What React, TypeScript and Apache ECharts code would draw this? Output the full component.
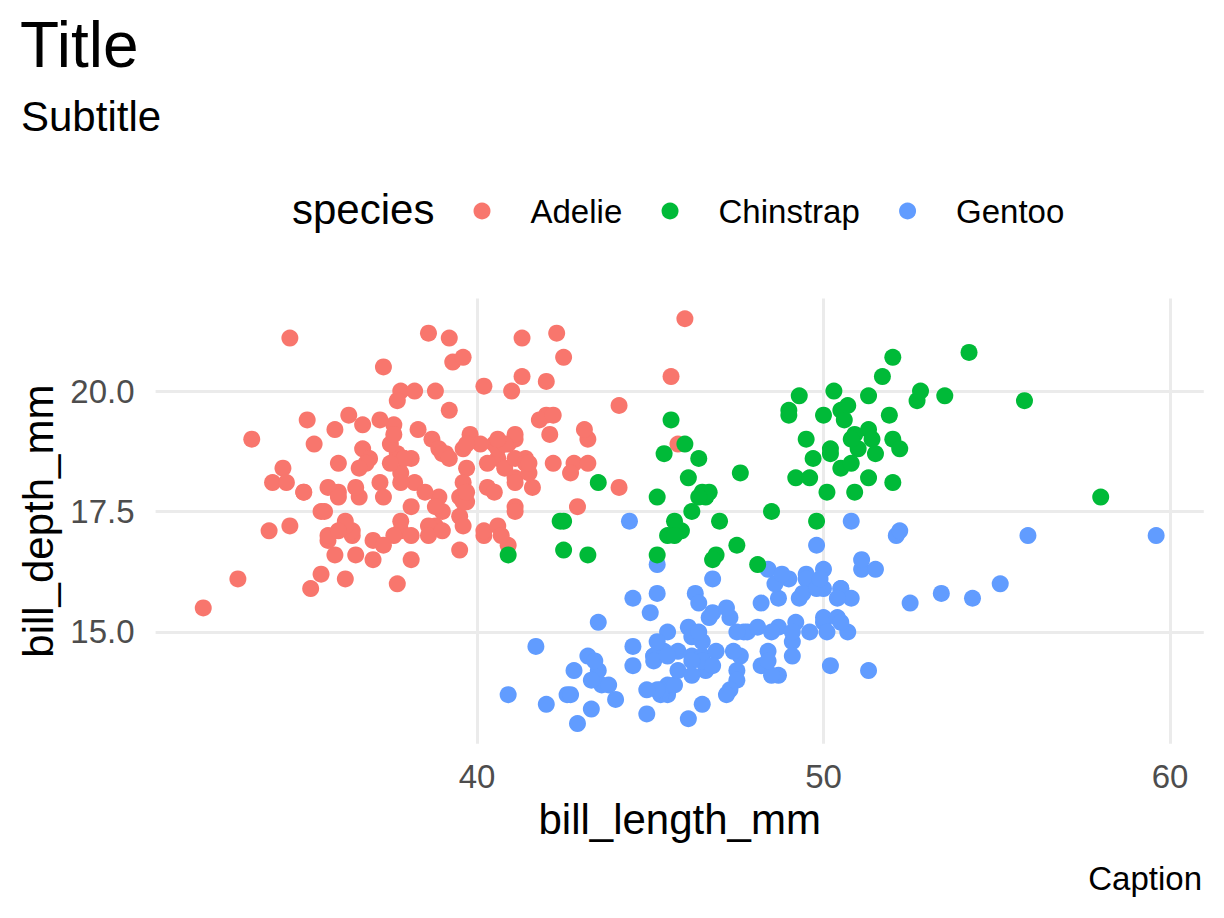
import React, { useEffect, useRef } from "react";
import * as echarts from "echarts";

const FONT = "'Liberation Sans', Arial, Helvetica, sans-serif";

const speciesNames = ["Adelie", "Chinstrap", "Gentoo"];
const speciesColors = { Adelie: "#F8766D", Chinstrap: "#00BA38", Gentoo: "#619CFF" };

const xTicks = [40, 50, 60];
const yTicks = [15, 17.5, 20];

const adelieLength = [
  39.1, 39.5, 40.3, 36.7, 39.3, 38.9, 39.2, 34.1, 42.0, 37.8, 37.8, 41.1, 38.6, 34.6, 36.6, 38.7, 42.5, 34.4, 46.0, 37.8,
  37.7, 35.9, 38.2, 38.8, 35.3, 40.6, 40.5, 37.9, 40.5, 39.5, 37.2, 39.5, 40.9, 36.4, 39.2, 38.8, 42.2, 37.6, 39.8, 36.5,
  40.8, 36.0, 44.1, 37.0, 39.6, 41.1, 37.5, 36.0, 42.3, 39.6, 40.1, 35.0, 42.0, 34.5, 41.4, 39.0, 40.6, 36.5, 37.6, 35.7,
  41.3, 37.6, 41.1, 36.4, 41.6, 35.5, 41.1, 35.9, 41.8, 33.5, 39.7, 39.6, 45.8, 35.5, 42.8, 40.9, 37.2, 36.2, 42.1, 34.6,
  42.9, 36.7, 35.1, 37.3, 41.3, 36.3, 36.9, 38.3, 38.9, 35.7, 41.1, 34.0, 39.6, 36.2, 40.8, 38.1, 40.3, 33.1, 43.2, 35.0,
  41.0, 37.7, 37.8, 37.9, 39.7, 38.6, 38.2, 38.1, 43.2, 38.1, 45.6, 39.7, 42.2, 39.6, 42.7, 38.6, 37.3, 35.7, 41.1, 36.2,
  37.7, 40.2, 41.4, 35.2, 40.6, 38.8, 41.5, 39.0, 44.1, 38.5, 43.1, 36.8, 37.5, 38.1, 41.1, 35.6, 40.2, 37.0, 39.7, 40.2,
  40.6, 32.1, 40.7, 37.3, 39.0, 39.2, 36.6, 36.0, 37.8, 36.0, 41.5,
];
const adelieDepth = [
  18.7, 17.4, 18.0, 19.3, 20.6, 17.8, 19.6, 18.1, 20.2, 17.1, 17.3, 17.6, 21.2, 21.1, 17.8, 19.0, 20.7, 18.4, 21.5, 18.3,
  18.7, 19.2, 18.1, 17.2, 18.9, 18.6, 17.9, 18.6, 18.9, 16.7, 18.1, 17.8, 18.9, 17.0, 21.1, 20.0, 18.5, 19.3, 19.1, 18.0,
  18.4, 18.5, 19.7, 16.9, 18.8, 19.0, 18.9, 17.9, 21.2, 17.7, 18.9, 17.9, 19.5, 18.1, 18.6, 17.5, 18.8, 16.6, 19.1, 16.9,
  21.1, 17.0, 18.2, 17.1, 18.0, 16.2, 19.1, 16.6, 19.4, 19.0, 18.4, 17.2, 18.9, 17.5, 18.5, 16.8, 19.4, 16.1, 19.1, 17.2,
  17.6, 18.8, 19.4, 17.8, 20.3, 19.5, 18.6, 19.2, 18.8, 18.0, 18.1, 17.1, 18.1, 17.3, 18.9, 18.6, 18.5, 16.1, 18.5, 17.9,
  20.0, 16.0, 20.0, 18.6, 18.9, 17.2, 20.0, 17.0, 19.0, 16.5, 20.3, 17.7, 19.5, 20.7, 18.3, 17.0, 20.5, 17.0, 18.6, 17.2,
  19.8, 17.0, 18.5, 15.9, 19.0, 17.6, 18.3, 17.1, 18.0, 17.9, 19.2, 18.5, 18.5, 17.6, 17.5, 17.5, 20.1, 16.5, 17.9, 17.1,
  17.2, 15.5, 17.0, 16.8, 18.7, 18.6, 18.4, 17.8, 18.1, 17.1, 18.5,
];

const gentooLength = [
  46.1, 50.0, 48.7, 50.0, 47.6, 46.5, 45.4, 46.7, 43.3, 46.8, 40.9, 49.0, 45.5, 48.4, 45.8, 49.3, 42.0, 49.2, 46.2, 48.7,
  50.2, 45.1, 46.5, 46.3, 42.9, 46.1, 44.5, 47.8, 48.2, 50.0, 47.3, 42.8, 45.1, 59.6, 49.1, 48.4, 42.6, 44.4, 44.0, 48.7,
  42.7, 49.6, 45.3, 49.6, 50.5, 43.6, 45.5, 50.5, 44.9, 45.2, 46.6, 48.5, 45.1, 50.1, 46.5, 45.0, 43.8, 45.5, 43.2, 50.4,
  45.3, 46.2, 45.7, 54.3, 45.8, 49.8, 46.2, 49.5, 43.5, 50.7, 47.7, 46.4, 48.2, 46.5, 46.4, 48.6, 47.5, 51.1, 45.2, 45.2,
  49.1, 52.5, 47.4, 50.0, 44.9, 50.8, 43.4, 51.3, 47.5, 52.1, 47.5, 52.2, 45.5, 49.5, 44.5, 50.8, 49.4, 46.9, 48.4, 51.1,
  48.5, 55.9, 47.2, 49.1, 47.3, 46.8, 41.7, 53.4, 43.3, 48.1, 50.5, 49.8, 43.5, 51.5, 46.2, 55.1, 44.5, 48.8, 47.2, 46.8,
  50.4, 45.2, 49.9,
];
const gentooDepth = [
  13.2, 16.3, 14.1, 15.2, 14.5, 13.5, 14.6, 15.3, 13.4, 15.4, 13.7, 16.1, 13.7, 14.6, 14.6, 15.7, 13.5, 15.2, 14.5, 15.1,
  14.3, 14.5, 14.5, 15.8, 13.1, 15.1, 14.3, 15.0, 14.3, 15.3, 15.3, 14.2, 14.5, 17.0, 14.8, 16.3, 13.7, 17.3, 13.6, 15.7,
  13.7, 16.0, 13.7, 15.0, 15.9, 13.9, 13.9, 15.9, 13.3, 15.8, 14.2, 14.1, 14.4, 15.0, 14.4, 15.4, 13.9, 15.0, 14.5, 15.3,
  13.8, 14.9, 13.9, 15.7, 14.2, 16.8, 14.4, 16.2, 14.2, 15.0, 15.0, 15.6, 15.6, 14.8, 15.0, 16.0, 14.2, 16.3, 13.8, 16.4,
  14.5, 15.6, 14.6, 15.9, 13.8, 17.3, 14.4, 14.2, 14.0, 17.0, 15.0, 17.1, 14.5, 16.1, 14.7, 15.7, 15.8, 14.6, 14.4, 16.5,
  15.0, 17.0, 15.5, 15.0, 13.8, 16.1, 14.7, 15.8, 14.0, 15.1, 15.2, 15.9, 15.2, 16.3, 14.1, 16.0, 15.7, 16.2, 13.7, 14.3,
  15.7, 14.8, 16.1,
];

const chinstrapLength = [
  46.5, 50.0, 51.3, 45.4, 52.7, 45.2, 46.1, 51.3, 46.0, 51.3, 46.6, 51.7, 47.0, 52.0, 45.9, 50.5, 50.3, 58.0, 46.4, 49.2,
  42.4, 48.5, 43.2, 50.6, 46.7, 52.0, 50.5, 49.5, 46.4, 52.8, 40.9, 54.2, 42.5, 51.0, 49.7, 47.5, 47.6, 52.0, 46.9, 53.5,
  49.0, 46.2, 50.9, 45.5, 50.9, 50.8, 50.1, 49.0, 51.5, 49.8, 48.1, 51.4, 45.7, 50.7, 42.5, 52.2, 45.2, 49.3, 50.2, 45.6,
  51.9, 46.8, 45.7, 55.8, 43.5, 49.6, 50.8, 50.2,
];
const chinstrapDepth = [
  17.9, 19.5, 19.2, 18.7, 19.8, 17.8, 18.2, 18.2, 18.9, 19.9, 17.8, 20.3, 17.3, 18.1, 17.1, 19.6, 20.0, 17.8, 18.6, 18.2,
  17.3, 17.5, 16.6, 19.4, 17.9, 19.0, 18.4, 19.0, 17.8, 20.0, 16.6, 20.8, 16.7, 18.8, 18.6, 16.8, 18.3, 20.7, 16.6, 19.9,
  19.5, 17.5, 19.1, 17.0, 17.9, 18.5, 17.9, 19.6, 18.7, 17.3, 16.4, 19.0, 17.3, 19.7, 17.3, 18.8, 16.6, 19.9, 18.8, 19.4,
  19.5, 16.5, 17.0, 19.8, 18.1, 18.2, 19.0, 18.7,
];

const zip = (xs: number[], ys: number[]) => xs.map((x, i) => [x, ys[i]]);

const seriesData: Record<string, number[][]> = {
  Adelie: zip(adelieLength, adelieDepth),
  Gentoo: zip(gentooLength, gentooDepth),
  Chinstrap: zip(chinstrapLength, chinstrapDepth),
};

// draw order as in the source (Adelie, Gentoo, Chinstrap)
const drawOrder = ["Adelie", "Gentoo", "Chinstrap"];

const GRID_LEFT = 155.6;
const GRID_RIGHT = 20.2;
const GRID_TOP = 298.5;
const GRID_BOTTOM = 174.2;

export default function App() {
  const ref = useRef<HTMLDivElement>(null);
  useEffect(() => {
    const chart = echarts.init(ref.current!, null, { renderer: "svg" });
    const option: any = {
      animation: false,
      backgroundColor: "#FFFFFF",
      textStyle: { fontFamily: FONT },
      grid: {
        left: GRID_LEFT,
        right: GRID_RIGHT,
        top: GRID_TOP,
        bottom: GRID_BOTTOM,
        containLabel: false,
        outerBoundsMode: "none",
      },
      xAxis: {
        type: "value",
        min: 30.725,
        max: 60.975,
        axisLine: { show: false },
        axisTick: { show: false, customValues: xTicks },
        axisLabel: {
          customValues: xTicks,
          color: "#4D4D4D",
          fontSize: 33,
          fontFamily: FONT,
          margin: 16,
        },
        splitLine: { show: true, lineStyle: { color: "#EBEBEB", width: 3 } },
      },
      yAxis: {
        type: "value",
        min: 12.68,
        max: 21.92,
        axisLine: { show: false },
        axisTick: { show: false, customValues: yTicks },
        axisLabel: {
          customValues: yTicks,
          color: "#4D4D4D",
          fontSize: 33,
          fontFamily: FONT,
          margin: 21,
          formatter: (v: number) => v.toFixed(1),
        },
        splitLine: { show: true, lineStyle: { color: "#EBEBEB", width: 3 } },
      },
      legend: {
        show: true,
        data: speciesNames,
        orient: "horizontal",
        left: 473.5,
        top: 194.5,
        padding: 0,
        itemWidth: 17,
        itemHeight: 17,
        itemGap: 39.3,
        icon: "circle",
        selectedMode: false,
        textStyle: {
          fontSize: 33,
          fontFamily: FONT,
          color: "#000000",
          padding: [0, 0, 0, 35],
        },
      },
      graphic: [
        {
          type: "text",
          x: 20,
          y: 45,
          style: { text: "Title", fontSize: 64, fontFamily: FONT, fill: "#000000", align: "left", verticalAlign: "middle" },
        },
        {
          type: "text",
          x: 21,
          y: 116.5,
          style: { text: "Subtitle", fontSize: 42, fontFamily: FONT, fill: "#000000", align: "left", verticalAlign: "middle" },
        },
        {
          type: "text",
          x: 292,
          y: 209,
          style: { text: "species", fontSize: 42, fontFamily: FONT, fill: "#000000", align: "left", verticalAlign: "middle" },
        },
        {
          type: "text",
          x: (GRID_LEFT + (1224 - GRID_RIGHT)) / 2,
          y: 819,
          style: { text: "bill_length_mm", fontSize: 42, fontFamily: FONT, fill: "#000000", align: "center", verticalAlign: "middle" },
        },
        {
          type: "text",
          x: 38,
          y: (GRID_TOP + (918 - GRID_BOTTOM)) / 2,
          rotation: Math.PI / 2,
          style: { text: "bill_depth_mm", fontSize: 42, fontFamily: FONT, fill: "#000000", align: "center", verticalAlign: "middle" },
        },
        {
          type: "text",
          x: 1202,
          y: 878.6,
          style: { text: "Caption", fontSize: 33, fontFamily: FONT, fill: "#000000", align: "right", verticalAlign: "middle" },
        },
      ],
      series: drawOrder.map((name) => ({
        name,
        type: "scatter",
        data: seriesData[name],
        symbol: "circle",
        symbolSize: 17,
        itemStyle: { color: (speciesColors as any)[name], opacity: 1 },
        emphasis: { disabled: true },
      })),
    };
    chart.setOption(option);
    return () => chart.dispose();
  }, []);
  return <div ref={ref} style={{ position: "absolute", left: 0, top: 0, width: 1224, height: 918 }} />;
}
